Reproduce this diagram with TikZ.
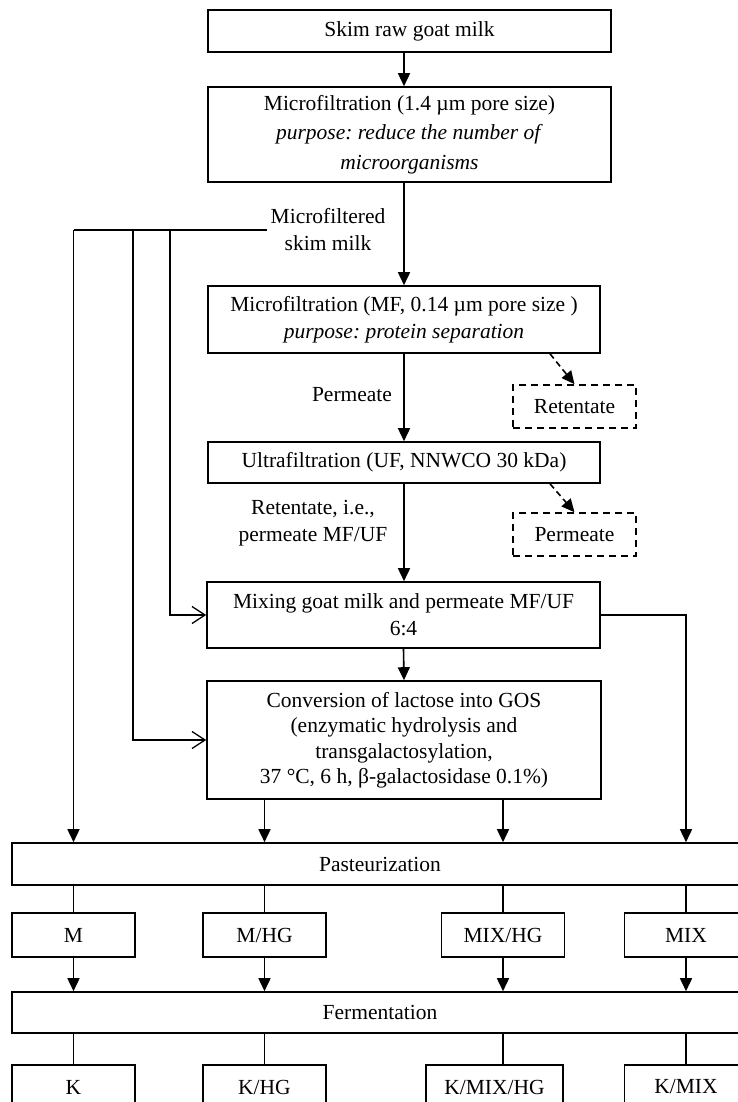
\documentclass[tikz,border=0pt]{standalone}
\usepackage{fontspec}
\setmainfont{Liberation Serif}
\usetikzlibrary{arrows.meta}
\frenchspacing

\begin{document}
\begin{tikzpicture}[x=1pt, y=-1pt, font=\fontsize{21.5pt}{27pt}\selectfont,
  box/.style={draw, line width=1.6pt, align=center, inner sep=2pt},
  dbox/.style={box, dash pattern=on 7pt off 5pt},
  arr/.style={line width=1.6pt, -{Triangle[length=13pt,width=12pt]}},
  oarr/.style={line width=1.3pt, -{Straight Barb[length=13pt,width=17pt]}},
  darr/.style={arr, dash pattern=on 6pt off 4pt}]
  \useasboundingbox (0,0) rectangle (738,1102);
  % process steps
  \node[box, minimum width=403pt, minimum height=42pt] (b1) at (409.5,31) {Skim raw goat milk};
  \node[box, minimum width=403pt, minimum height=95pt, font=\fontsize{21.5pt}{29.5pt}\selectfont] (b2) at (409.5,134.5)
    {Microfiltration (1.4 µm pore size)\\\textit{purpose: reduce the number of}\\\textit{microorganisms}};
  \node[box, minimum width=392pt, minimum height=67pt] (b3) at (404,319.5)
    {Microfiltration (MF, 0.14 µm pore size )\\\textit{purpose: protein separation}};
  \node[box, minimum width=392pt, minimum height=41pt] (b4) at (404,462.5) {Ultrafiltration (UF, NNWCO 30 kDa)};
  \node[box, minimum width=393pt, minimum height=66pt] (mix) at (403.5,615) {Mixing goat milk and permeate MF/UF\\6:4};
  \node[box, minimum width=394pt, minimum height=118pt, font=\fontsize{21.5pt}{25.5pt}\selectfont] (conv) at (404,740)
    {Conversion of lactose into GOS\\(enzymatic hydrolysis and\\transgalactosylation,\\37 °C, 6 h, β-galactosidase 0.1\%)};
  % side streams
  \node[dbox, minimum width=123pt, minimum height=43pt] (ret) at (574.5,406.5) {Retentate};
  \node[dbox, minimum width=123pt, minimum height=43pt] (perm) at (574.5,534.5) {Permeate};
  % labels
  \node[align=center] (mfl) at (328,230) {Microfiltered\\skim milk};
  \node (lp) at (352,395) {Permeate};
  \node[align=center] (lr) at (313,523) {Retentate, i.e.,\\permeate MF/UF};
  % pasteurization and fermentation
  \node[box, minimum width=736pt, minimum height=42pt] (past) at (380,864) {Pasteurization};
  \node[box, minimum width=736pt, minimum height=41pt] (ferm) at (380,1012.5) {Fermentation};
  \foreach \i/\x/\m/\k/\kx/\w in {1/73.5/M/K/73.5/123, 2/264.5/{M/HG}/{K/HG}/264.5/123,
      3/503/{MIX/HG}/{K/MIX/HG}/494.5/137, 4/686/MIX/{K/MIX}/686/123}{
    \node[box, minimum width=123pt, minimum height=44pt] (m\i) at (\x,935) {\m};
    \node[box, minimum width=\w pt, minimum height=44pt] (k\i) at (\kx,1087) {\k};
    \draw[line width=1.6pt] (past.south -| m\i.north) -- (m\i.north);
    \draw[arr] (m\i.south) -- (ferm.north -| m\i.south);
    \draw[line width=1.6pt] (ferm.south -| m\i.south) -- (k\i.north -| m\i.south);
  }
  % main line
  \draw[arr] (b1.south -| b3.north) -- (b2.north -| b3.north);
  \draw[arr] (b2.south -| b3.north) -- (b3.north);
  \draw[arr] (b3.south) -- (b4.north);
  \draw[arr] (b4.south) -- (mix.north -| b4.south);
  \draw[arr] (mix.south) -- (conv.north);
  \draw[darr] ([xshift=146pt]b3.south) -- (ret.north);
  \draw[darr] ([xshift=146pt]b4.south) -- (perm.north);
  % microfiltered milk branches
  \coordinate (j1) at (mfl.west -| m1.north);
  \coordinate (j2) at (mfl.west -| 133,0);
  \coordinate (j3) at (mfl.west -| 170,0);
  \draw[line width=1.6pt] (mfl.west) -- (j1);
  \draw[arr] (j1) -- (past.north -| j1);
  \draw[oarr] (j2) |- (conv.west);
  \draw[oarr] (j3) |- (mix.west);
  % into pasteurization
  \draw[arr] (mix.east) -| (past.north -| m4.north);
  \draw[arr] (conv.south -| m2.north) -- (past.north -| m2.north);
  \draw[arr] (conv.south -| m3.north) -- (past.north -| m3.north);
\end{tikzpicture}
\end{document}
